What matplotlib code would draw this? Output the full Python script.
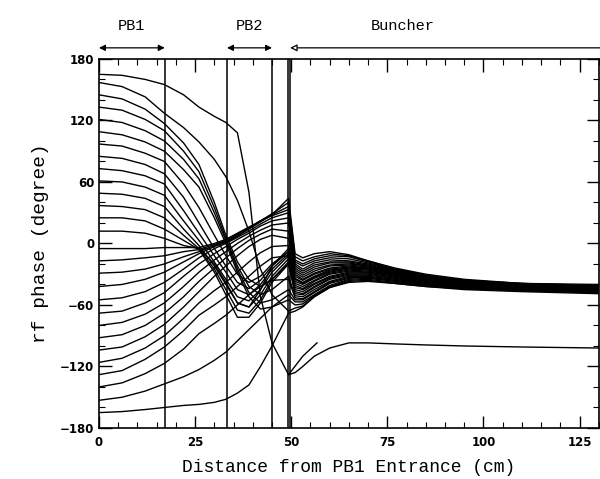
import matplotlib
matplotlib.use("Agg")
import matplotlib.pyplot as plt
from matplotlib.ticker import MultipleLocator

# ── data ───────────────────────────────────────────────────────────────────
# x positions (cm) where each phase trajectory was read
x_pb  = [0, 6, 12, 17, 22, 26, 30, 33, 36, 39, 42, 45, 49.3]
x_bun = [51, 53, 56, 60, 65, 70, 77, 85, 95, 110, 130]

# rf phase (deg) of each particle through PB1 / drift / PB2, one row per particle
phase_pb = [
    [165, 164, 160, 155, 145, 133, 124, 118, 108, 50, -52, -97, -128],
    [157, 153, 143, 127, 113, 99, 82, 65, 42, 12, -25, -50, -66],
    [145, 141, 131, 117, 98, 77, 40, 8, -18, -35, -42, -35, -20],
    [133, 130, 121, 110, 90, 70, 35, 5, -22, -42, -50, -45, -32],
    [121, 118, 110, 100, 82, 63, 30, 3, -25, -48, -58, -55, -45],
    [109, 106, 99, 90, 72, 55, 25, 0, -28, -52, -64, -62, -55],
    [97, 95, 88, 80, 58, 35, 8, -12, -30, -38, -32, -20, -8],
    [85, 83, 77, 68, 45, 20, -5, -22, -38, -44, -36, -22, -8],
    [73, 71, 66, 58, 32, 10, -12, -28, -45, -50, -40, -25, -10],
    [61, 60, 55, 47, 22, 3, -18, -35, -52, -56, -45, -28, -12],
    [49, 48, 44, 36, 14, -2, -22, -40, -58, -62, -50, -32, -15],
    [37, 36, 33, 25, 8, -5, -25, -45, -65, -68, -55, -35, -18],
    [25, 25, 22, 14, 3, -6, -28, -50, -72, -72, -58, -38, -20],
    [12, 12, 10, 5, -2, -5, -20, -38, -58, -62, -45, -22, -5],
    [-5, -5, -5, -4, -4, -4, 0, 4, 10, 16, 22, 27, 33],
    [-17, -16, -14, -12, -8, -6, -1, 3, 9, 15, 22, 28, 36],
    [-29, -28, -25, -20, -13, -8, -2, 2, 8, 15, 22, 29, 40],
    [-42, -40, -35, -28, -18, -10, -3, 1, 7, 14, 21, 28, 44],
    [-55, -53, -47, -38, -25, -14, -5, 0, 6, 12, 19, 25, 30],
    [-68, -66, -58, -48, -32, -20, -10, -3, 4, 10, 17, 22, 25],
    [-80, -77, -69, -58, -42, -28, -16, -8, 0, 7, 13, 18, 20],
    [-92, -89, -80, -68, -52, -37, -24, -14, -5, 3, 9, 14, 12],
    [-104, -101, -91, -79, -62, -47, -32, -22, -12, -3, 4, 8, 5],
    [-116, -112, -102, -90, -73, -58, -46, -38, -28, -18, -9, -3, -2],
    [-128, -124, -113, -101, -85, -70, -60, -52, -42, -32, -22, -14, -12],
    [-140, -136, -127, -117, -103, -88, -78, -70, -60, -50, -42, -36, -35],
    [-153, -150, -144, -137, -130, -123, -114, -106, -95, -84, -73, -62, -50],
    [-165, -164, -162, -160, -158, -157, -155, -152, -146, -138, -120, -100, -68],
]

# same particles inside the buncher
phase_bun = [
    [-126, -120, -110, -102, -97, -97, -98, -99, -100, -101, -102],
    [-63, -61, -52, -43, -37, -36, -39, -42, -45, -47, -49],
    [-47, -49, -42, -34, -30, -30, -34, -38, -42, -45, -47],
    [-51, -52, -45, -37, -32, -32, -35, -39, -43, -45, -47],
    [-55, -55, -48, -39, -34, -33, -36, -40, -44, -46, -47],
    [-60, -59, -51, -42, -36, -35, -38, -41, -44, -46, -47],
    [-34, -38, -32, -26, -24, -25, -30, -35, -39, -42, -44],
    [-35, -39, -33, -27, -24, -25, -30, -35, -39, -41, -42],
    [-37, -40, -34, -28, -25, -26, -31, -36, -40, -43, -45],
    [-39, -42, -36, -29, -26, -27, -31, -36, -40, -43, -46],
    [-43, -45, -39, -32, -28, -28, -32, -37, -41, -44, -46],
    [-45, -47, -40, -33, -29, -29, -33, -38, -42, -44, -45],
    [-49, -50, -43, -35, -31, -31, -34, -39, -43, -45, -46],
    [-32, -36, -30, -25, -23, -24, -29, -34, -38, -42, -45],
    [-18, -22, -17, -14, -15, -19, -26, -32, -37, -40, -42],
    [-16, -20, -15, -12, -13, -18, -25, -31, -36, -40, -43],
    [-13, -17, -13, -10, -12, -17, -24, -30, -35, -39, -42],
    [-10, -14, -10, -8, -11, -17, -25, -31, -36, -39, -41],
    [-20, -25, -19, -16, -17, -20, -26, -32, -36, -39, -40],
    [-22, -27, -21, -18, -18, -21, -27, -33, -37, -40, -43],
    [-24, -29, -23, -19, -19, -22, -27, -32, -37, -41, -44],
    [-26, -31, -25, -21, -20, -22, -28, -33, -37, -40, -42],
    [-28, -33, -27, -22, -21, -23, -28, -33, -38, -41, -44],
    [-30, -35, -29, -24, -22, -24, -29, -34, -38, -41, -43],
    [-41, -44, -37, -30, -27, -28, -32, -37, -41, -43, -44],
    [-53, -54, -47, -38, -33, -33, -36, -40, -43, -46, -48],
    [-57, -57, -50, -41, -35, -34, -37, -41, -44, -46, -48],
    [-66, -62, -52, -43, -38, -37, -39, -42, -44, -46, -48],
]

# one particle that stops shortly after the buncher entrance
lost_x = [49.3, 53, 56.7]
lost_y = [-128, -110, -97]

# element boundaries (cm)
boundaries = [17.1, 33.3, 45.0, 49.2, 49.7]

plt.rcParams.update({"font.size": 9})
mono = ["Liberation Mono", "DejaVu Sans Mono"]

fig = plt.figure(figsize=(6.0, 4.79), dpi=100)
ax = fig.add_axes([0.165, 0.1065, 0.833, 0.7705])

for row_pb, row_bun in zip(phase_pb, phase_bun):
    ax.plot(x_pb + x_bun, row_pb + row_bun, color="black", linewidth=1.0)
ax.plot(lost_x, lost_y, color="black", linewidth=1.0)

for xb in boundaries:
    ax.axvline(xb, color="black", linewidth=1.1)

ax.set_xlim(0, 130)
ax.set_ylim(-180, 180)
ax.xaxis.set_major_locator(MultipleLocator(25))
ax.xaxis.set_minor_locator(MultipleLocator(5))
ax.yaxis.set_major_locator(MultipleLocator(60))
ax.yaxis.set_minor_locator(MultipleLocator(20))
ax.tick_params(which="both", direction="in", top=True, right=True, color="black")
ax.tick_params(which="major", length=9, width=1.0)
ax.tick_params(which="minor", length=4, width=0.8)
ax.tick_params(axis="x", which="major", pad=6)
for lab in ax.get_xticklabels() + ax.get_yticklabels():
    lab.set_fontweight("bold")
    lab.set_fontsize(8.5)
for sp in ax.spines.values():
    sp.set_linewidth(1.2)

ax.set_xlabel("Distance from PB1 Entrance (cm)", family=mono, fontsize=13, labelpad=7)
ax.set_ylabel("rf phase (degree)", family=mono, fontsize=14, labelpad=8)

# element markers above the frame
tr = ax.get_xaxis_transform()
ax.annotate("", xy=(0, 1.03), xytext=(17.1, 1.03), xycoords=tr, textcoords=tr,
            arrowprops=dict(arrowstyle="<|-|>", color="black", lw=0.9,
                            mutation_scale=9, shrinkA=0, shrinkB=0),
            annotation_clip=False)
ax.annotate("", xy=(33.3, 1.03), xytext=(45.0, 1.03), xycoords=tr, textcoords=tr,
            arrowprops=dict(arrowstyle="<|-|>", color="black", lw=0.9,
                            mutation_scale=9, shrinkA=0, shrinkB=0),
            annotation_clip=False)
ax.annotate("", xy=(49.7, 1.03), xytext=(131, 1.03), xycoords=tr, textcoords=tr,
            arrowprops=dict(arrowstyle="-|>", color="black", lw=0.9, fc="white",
                            mutation_scale=10, shrinkA=0, shrinkB=0),
            annotation_clip=False)
ax.text(8.5, 1.09, "PB1", transform=tr, ha="center", va="center", family=mono, fontsize=11)
ax.text(39.2, 1.09, "PB2", transform=tr, ha="center", va="center", family=mono, fontsize=11)
ax.text(79, 1.09, "Buncher", transform=tr, ha="center", va="center", family=mono, fontsize=11)

plt.savefig("out.png", dpi=100)
